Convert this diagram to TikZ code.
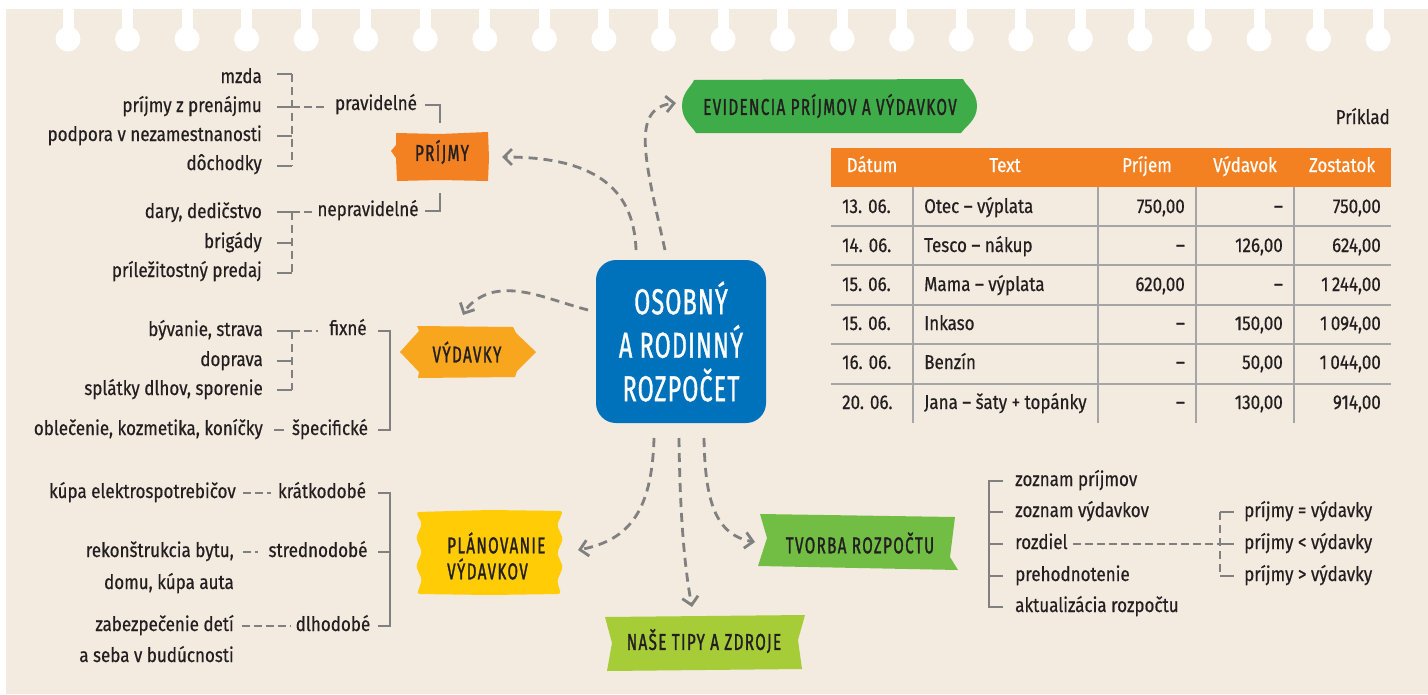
\documentclass[tikz,border=0pt]{standalone}
\usepackage{fontspec}
\setmainfont{Fira Sans}
\newfontfamily\bodyf{Fira Sans}[FakeStretch=0.85,FakeBold=0.5]
\newfontfamily\capf{Fira Sans}[FakeStretch=0.66,FakeBold=1.2,LetterSpace=6]
\newfontfamily\titf{Fira Sans}[FakeStretch=0.65,FakeBold=0.9,LetterSpace=3]
\usetikzlibrary{arrows.meta,calc}
\definecolor{bg}{RGB}{243,234,224}
\definecolor{ink}{RGB}{35,31,32}
\definecolor{cblue}{RGB}{0,114,188}
\definecolor{corange}{RGB}{244,129,33}
\definecolor{cyorange}{RGB}{248,166,30}
\definecolor{cyellow}{RGB}{255,204,5}
\definecolor{cgreenA}{RGB}{62,173,73}
\definecolor{cgreenB}{RGB}{114,190,68}
\definecolor{clime}{RGB}{166,204,56}
\definecolor{lgray}{RGB}{128,128,128}
\definecolor{tgray}{RGB}{165,165,165}
\newcommand\mytrow[7]{%
  \node[body,anchor=west] (#1d) at (842,#2) {#3};
  \node[body,anchor=west] (#1t) at (924,#2) {#4};
  \node[body,anchor=east] (#1a) at (1185,#2) {#5};
  \node[body,anchor=east] (#1b) at (1283,#2) {#6};
  \node[body,anchor=east] (#1c) at (1381,#2) {#7};}
\tikzset{
  body/.style={font=\bodyf\fontsize{20}{24}\selectfont, text=ink, inner sep=0pt, text height=14pt, text depth=4pt},
  lbl/.style={body, anchor=east},
  rgt/.style={body, anchor=west},
  hdr/.style={body, text=white},
  boxtxt/.style={font=\capf\fontsize{23}{27}\selectfont, text=ink, inner sep=0pt},
  sline/.style={draw=lgray, line width=2.6pt},
  dline/.style={draw=lgray, line width=2.6pt, dash pattern=on 8pt off 5pt},
  conn/.style={draw=lgray, line width=2.6pt, dash pattern=on 8pt off 4pt},
  arr/.style={draw=lgray, line width=2.8pt, dash pattern=on 9pt off 6pt, -{Straight Barb[length=8pt,width=16pt]}},
  tgrid/.style={draw=tgray, line width=2pt},
}
\begin{document}
\begin{tikzpicture}[x=1pt,y=-1pt]
\useasboundingbox (0,0) rectangle (1428,694);
\fill[white] (0,0) rectangle (1428,694);
\fill[bg] (6,9) rectangle (1428,694);
\foreach \i in {0,...,22}{
  \fill[white] ({68+59.55*\i-5.5},0) rectangle ({68+59.55*\i+5.5},34);
  \fill[white] ({68+59.55*\i},39) circle[radius=12.5];
}
% ---------- centre
\node[fill=cblue, rounded corners=20pt, minimum width=170pt, minimum height=163pt, inner sep=0pt,
      text=white, align=center, font=\titf\fontsize{36}{43.5}\selectfont] (center) at (681,341.5)
      {OSOBNÝ\\A RODINNÝ\\ROZPOČET};
% ---------- boxes
\fill[corange] (396,133) -- (440,134) -- (488,132) -- (489,158) -- (488,181) -- (440,180) -- (397,181) -- (396,158) -- (391,151) -- (396,145) -- cycle;
\node[boxtxt] (prijmy) at (442,152) {PRÍJMY};
\fill[cyorange] (400,352) -- (419,331) -- (417,326) -- (513,327) -- (516,333) -- (536,352) -- (517,371) -- (515,377) -- (418,378) -- (419,372) -- cycle;
\node[boxtxt] (vydavky) at (467,352) {VÝDAVKY};
\fill[cyellow, rounded corners=3pt] (416,512) -- (490,510) -- (563,511) -- (557,525) -- (563,539) -- (557,553) -- (563,567) -- (557,581) -- (561,594) -- (490,595) -- (417,594) -- (422,580) -- (416,566) -- (422,552) -- (416,538) -- (422,524) -- cycle;
\node[font=\capf\fontsize{23}{26}\selectfont, text=ink, inner sep=0pt, align=left, anchor=west] (plan) at (447,556) {PLÁNOVANIE\\VÝDAVKOV};
\fill[cgreenA] (694,80) -- (963,79) .. controls (966,86) and (977,92) .. (977,106) .. controls (977,120) and (966,126) .. (961,133) -- (696,133) .. controls (692,126) and (682,120) .. (682,106) .. controls (682,92) and (692,86) .. (694,80) -- cycle;
\node[boxtxt] (evid) at (830,106) {EVIDENCIA PRÍJMOV A VÝDAVKOV};
\fill[cgreenB] (760,514) -- (955,517) -- (950,557) -- (958,570) -- (758,566) -- (767,538) -- cycle;
\node[boxtxt] (tvorba) at (860,543) {TVORBA ROZPOČTU};
\fill[clime] (605,617) -- (805,615) -- (798,640) -- (802,669) -- (607,671) -- (612,643) -- cycle;
\node[boxtxt] (tipy) at (704,641) {NAŠE TIPY A ZDROJE};
% ---------- arrows
\coordinate (s1) at (636,250); \coordinate (e1) at (502,157);
\coordinate (s2) at (665,250); \coordinate (e2) at (676,103);
\coordinate (s3) at (588,310); \coordinate (e3) at (463,315);
\coordinate (s4) at (654,438); \coordinate (e4) at (578,550);
\coordinate (s5) at (679,438); \coordinate (e5) at (692,607);
\coordinate (s6) at (704,438); \coordinate (e6) at (755,542);
\draw[arr] (s1) .. controls (634,185) and (590,157) .. (e1);
\draw[arr] (s2) .. controls (645,160) and (630,108) .. (e2);
\draw[arr] (s3) .. controls (550,300) and (520,285) .. (490,293) .. controls (478,297) and (468,305) .. (e3);
\draw[arr] (s4) .. controls (652,510) and (630,540) .. (e4);
\draw[arr] (s5) .. controls (680,520) and (685,570) .. (e5);
\draw[arr] (s6) .. controls (705,500) and (715,535) .. (e6);
% ---------- PRIJMY branch
\node[lbl] (i1) at (262,78) {mzda};
\node[lbl] (i2) at (262,107) {príjmy z prenájmu};
\node[lbl] (i3) at (262,136) {podpora v nezamestnanosti};
\node[lbl] (i4) at (262,165) {dôchodky};
\node[lbl] (i5) at (262,213) {dary, dedičstvo};
\node[lbl] (i6) at (262,243) {brigády};
\node[lbl] (i7) at (262,272) {príležitostný predaj};
\node[body] (reg) at (376,105) {pravidelné};
\node[body] (irr) at (368,211) {nepravidelné};
\draw[sline] (277,74) -- (292,74);
\draw[sline] (277,107) -- (292,107);
\draw[sline] (277,136) -- (292,136);
\draw[sline] (277,166) -- (292,166);
\draw[dline] (292,74) -- (292,166);
\draw[conn] (292,107) -- (326,107);
\draw[sline] (425,105) -- (440,105) -- (440,123);
\draw[sline] (440,193) -- (440,211) -- (425,211);
\draw[sline] (277,212) -- (292,212);
\draw[sline] (277,243) -- (292,243);
\draw[sline] (277,273) -- (292,273);
\draw[dline] (292,212) -- (292,273);
\draw[conn] (292,212) -- (315,212);
% ---------- VYDAVKY branch
\node[lbl] (v1) at (263,331) {bývanie, strava};
\node[lbl] (v2) at (263,361) {doprava};
\node[lbl] (v3) at (263,390) {splátky dlhov, sporenie};
\node[lbl] (v4) at (263,430) {oblečenie, kozmetika, koníčky};
\node[body] (fix) at (348,330) {fixné};
\node[body] (spec) at (330,430) {špecifické};
\draw[sline] (277,331) -- (292,331);
\draw[sline] (277,361) -- (292,361);
\draw[sline] (277,390) -- (292,390);
\draw[dline] (292,331) -- (292,390);
\draw[conn] (292,331) -- (318,331);
\draw[sline] (274,430) -- (284,430);
\draw[sline] (378,331) -- (390,331) -- (390,430) -- (378,430);
% ---------- PLANOVANIE branch
\node[lbl] (p1) at (236,493) {kúpa elektrospotrebičov};
\node[lbl] (p2) at (234,552) {rekonštrukcia bytu,};
\node[lbl] (p2b) at (234,584) {domu, kúpa auta};
\node[lbl] (p3) at (234,626) {zabezpečenie detí};
\node[lbl] (p3b) at (234,657) {a seba v budúcnosti};
\node[body] (kr) at (322,493) {krátkodobé};
\node[body] (st) at (318,552) {strednodobé};
\node[body] (dl) at (333,626) {dlhodobé};
\draw[conn] (243,493) -- (271,493);
\draw[conn] (243,552) -- (258,552);
\draw[conn] (242,626) -- (291,626);
\draw[sline] (378,493) -- (390,493) -- (390,626) -- (378,626);
\draw[sline] (378,552) -- (390,552);
% ---------- TVORBA branch
\node[rgt] (z1) at (1015,481) {zoznam príjmov};
\node[rgt] (z2) at (1015,512) {zoznam výdavkov};
\node[rgt] (z3) at (1015,544) {rozdiel};
\node[rgt] (z4) at (1015,576) {prehodnotenie};
\node[rgt] (z5) at (1015,607) {aktualizácia rozpočtu};
\draw[sline] (1003,481) -- (989,481) -- (989,607) -- (1003,607);
\draw[sline] (989,512) -- (1003,512);
\draw[sline] (989,544) -- (1003,544);
\draw[sline] (989,576) -- (1003,576);
\node[rgt] (r1) at (1244,512) {príjmy = výdavky};
\node[rgt] (r2) at (1244,544) {príjmy < výdavky};
\node[rgt] (r3) at (1244,576) {príjmy > výdavky};
\draw[conn] (1073,544) -- (1220,544);
\draw[dline] (1220,512) -- (1220,576);
\draw[sline] (1220,512) -- (1234,512);
\draw[sline] (1220,544) -- (1234,544);
\draw[sline] (1220,576) -- (1234,576);
% ---------- table
\node[body,anchor=east] (priklad) at (1390,119) {Príklad};
\fill[corange] (831,148) rectangle (1391,187);
\foreach \yy in {226,265,305,344,384} \draw[tgrid] (831,\yy) -- (1391,\yy);
\foreach \xx in {913,1098,1196,1294} \draw[tgrid] (\xx,187) -- (\xx,423);
\node[hdr] (hDat) at (872,167) {Dátum};
\node[hdr] (hTxt) at (1005,167) {Text};
\node[hdr] (hPri) at (1147,167) {Príjem};
\node[hdr] (hVyd) at (1245,167) {Výdavok};
\node[hdr] (hZos) at (1342,167) {Zostatok};
\mytrow{ra}{208}{13. 06.}{Otec – výplata}{750,00}{–}{750,00}
\mytrow{rb}{247}{14. 06.}{Tesco – nákup}{–}{126,00}{624,00}
\mytrow{rc}{286}{15. 06.}{Mama – výplata}{620,00}{–}{1\,244,00}
\mytrow{rd}{325}{15. 06.}{Inkaso}{–}{150,00}{1\,094,00}
\mytrow{re}{364}{16. 06.}{Benzín}{–}{50,00}{1\,044,00}
\mytrow{rf}{404}{20. 06.}{Jana – šaty + topánky}{–}{130,00}{914,00}
\end{tikzpicture}
\end{document}
